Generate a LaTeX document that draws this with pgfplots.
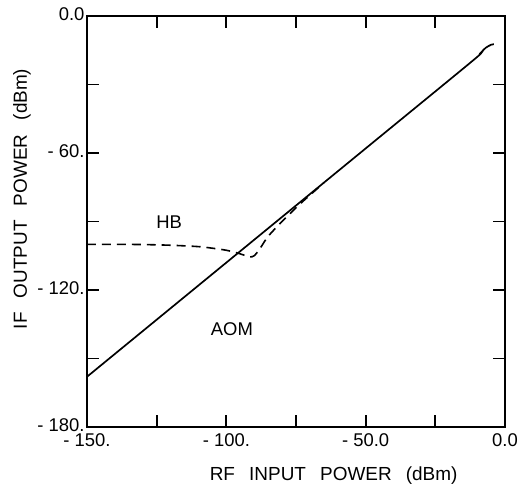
\documentclass[border=0pt]{standalone}
\usepackage{fontspec}
\setmainfont{Liberation Sans}
\usepackage{pgfplots}
\pgfplotsset{compat=1.18}
\newcommand{\gap}{\hspace{0.75em}}
\begin{document}
\begin{tikzpicture}[font=\fontsize{18.5}{21}\selectfont]
\begin{axis}[
  name=main,
  scale only axis,
  width=418bp, height=411bp,
  xmin=-150, xmax=0, ymin=-180, ymax=0,
  xtick={-150,-125,-100,-75,-50,-25,0},
  xticklabels={- 150.,,- 100.,,- 50.0,,0.0},
  ytick={-180,-150,-120,-90,-60,-30,0},
  yticklabels={- 180.,,- 120.,,- 60.,,0.0},
  tick align=inside,
  major tick length=12bp,
  axis line style={line width=2pt},
  every tick/.style={line width=1.8pt, black},
  tick label style={font=\fontsize{18.5}{21}\selectfont},
  label style={font=\fontsize{19}{21}\selectfont},
  xlabel={RF\gap INPUT\gap POWER\gap (dBm)},
  ylabel={IF\gap OUTPUT\gap POWER\gap (dBm)},
  xticklabel style={yshift=-3.5bp},
  yticklabel style={yshift=1.5bp, xshift=1bp},
  xlabel style={at={(rel axis cs:0.59,-0.129)}, anchor=base},
  ylabel style={at={(rel axis cs:-0.1555,0.555)}, anchor=center},
  clip=false,
]
\addplot[black, line width=1.7pt, smooth] coordinates {
(-150,-158) (-100,-108) (-50,-58) (-12,-20) (-9,-16.5) (-7,-14) (-5,-12.6) (-4,-12.4)
};
\addplot[black, line width=1.6pt, dash pattern=on 9pt off 6pt, smooth] coordinates {
(-150,-100) (-140,-100) (-130,-100.1) (-120,-100.4) (-110,-101) (-105,-101.7) (-100,-102.6) (-96,-103.8) (-93,-105) (-91.5,-105.5) (-90,-105) (-88,-102) (-85,-96.5) (-80,-90) (-75,-84) (-72,-80.6) (-68,-76.3) (-65,-73)
};
\node at (axis cs:-120.5,-90.5) {HB};
\node at (axis cs:-98,-137) {AOM};
\end{axis}
\pgfresetboundingbox
\path (main.south west) ++(-87bp,-57bp) coordinate (bl);
\path (main.north east) ++(23bp,16bp) coordinate (tr);
\path (bl) rectangle (tr);
\end{tikzpicture}
\end{document}
